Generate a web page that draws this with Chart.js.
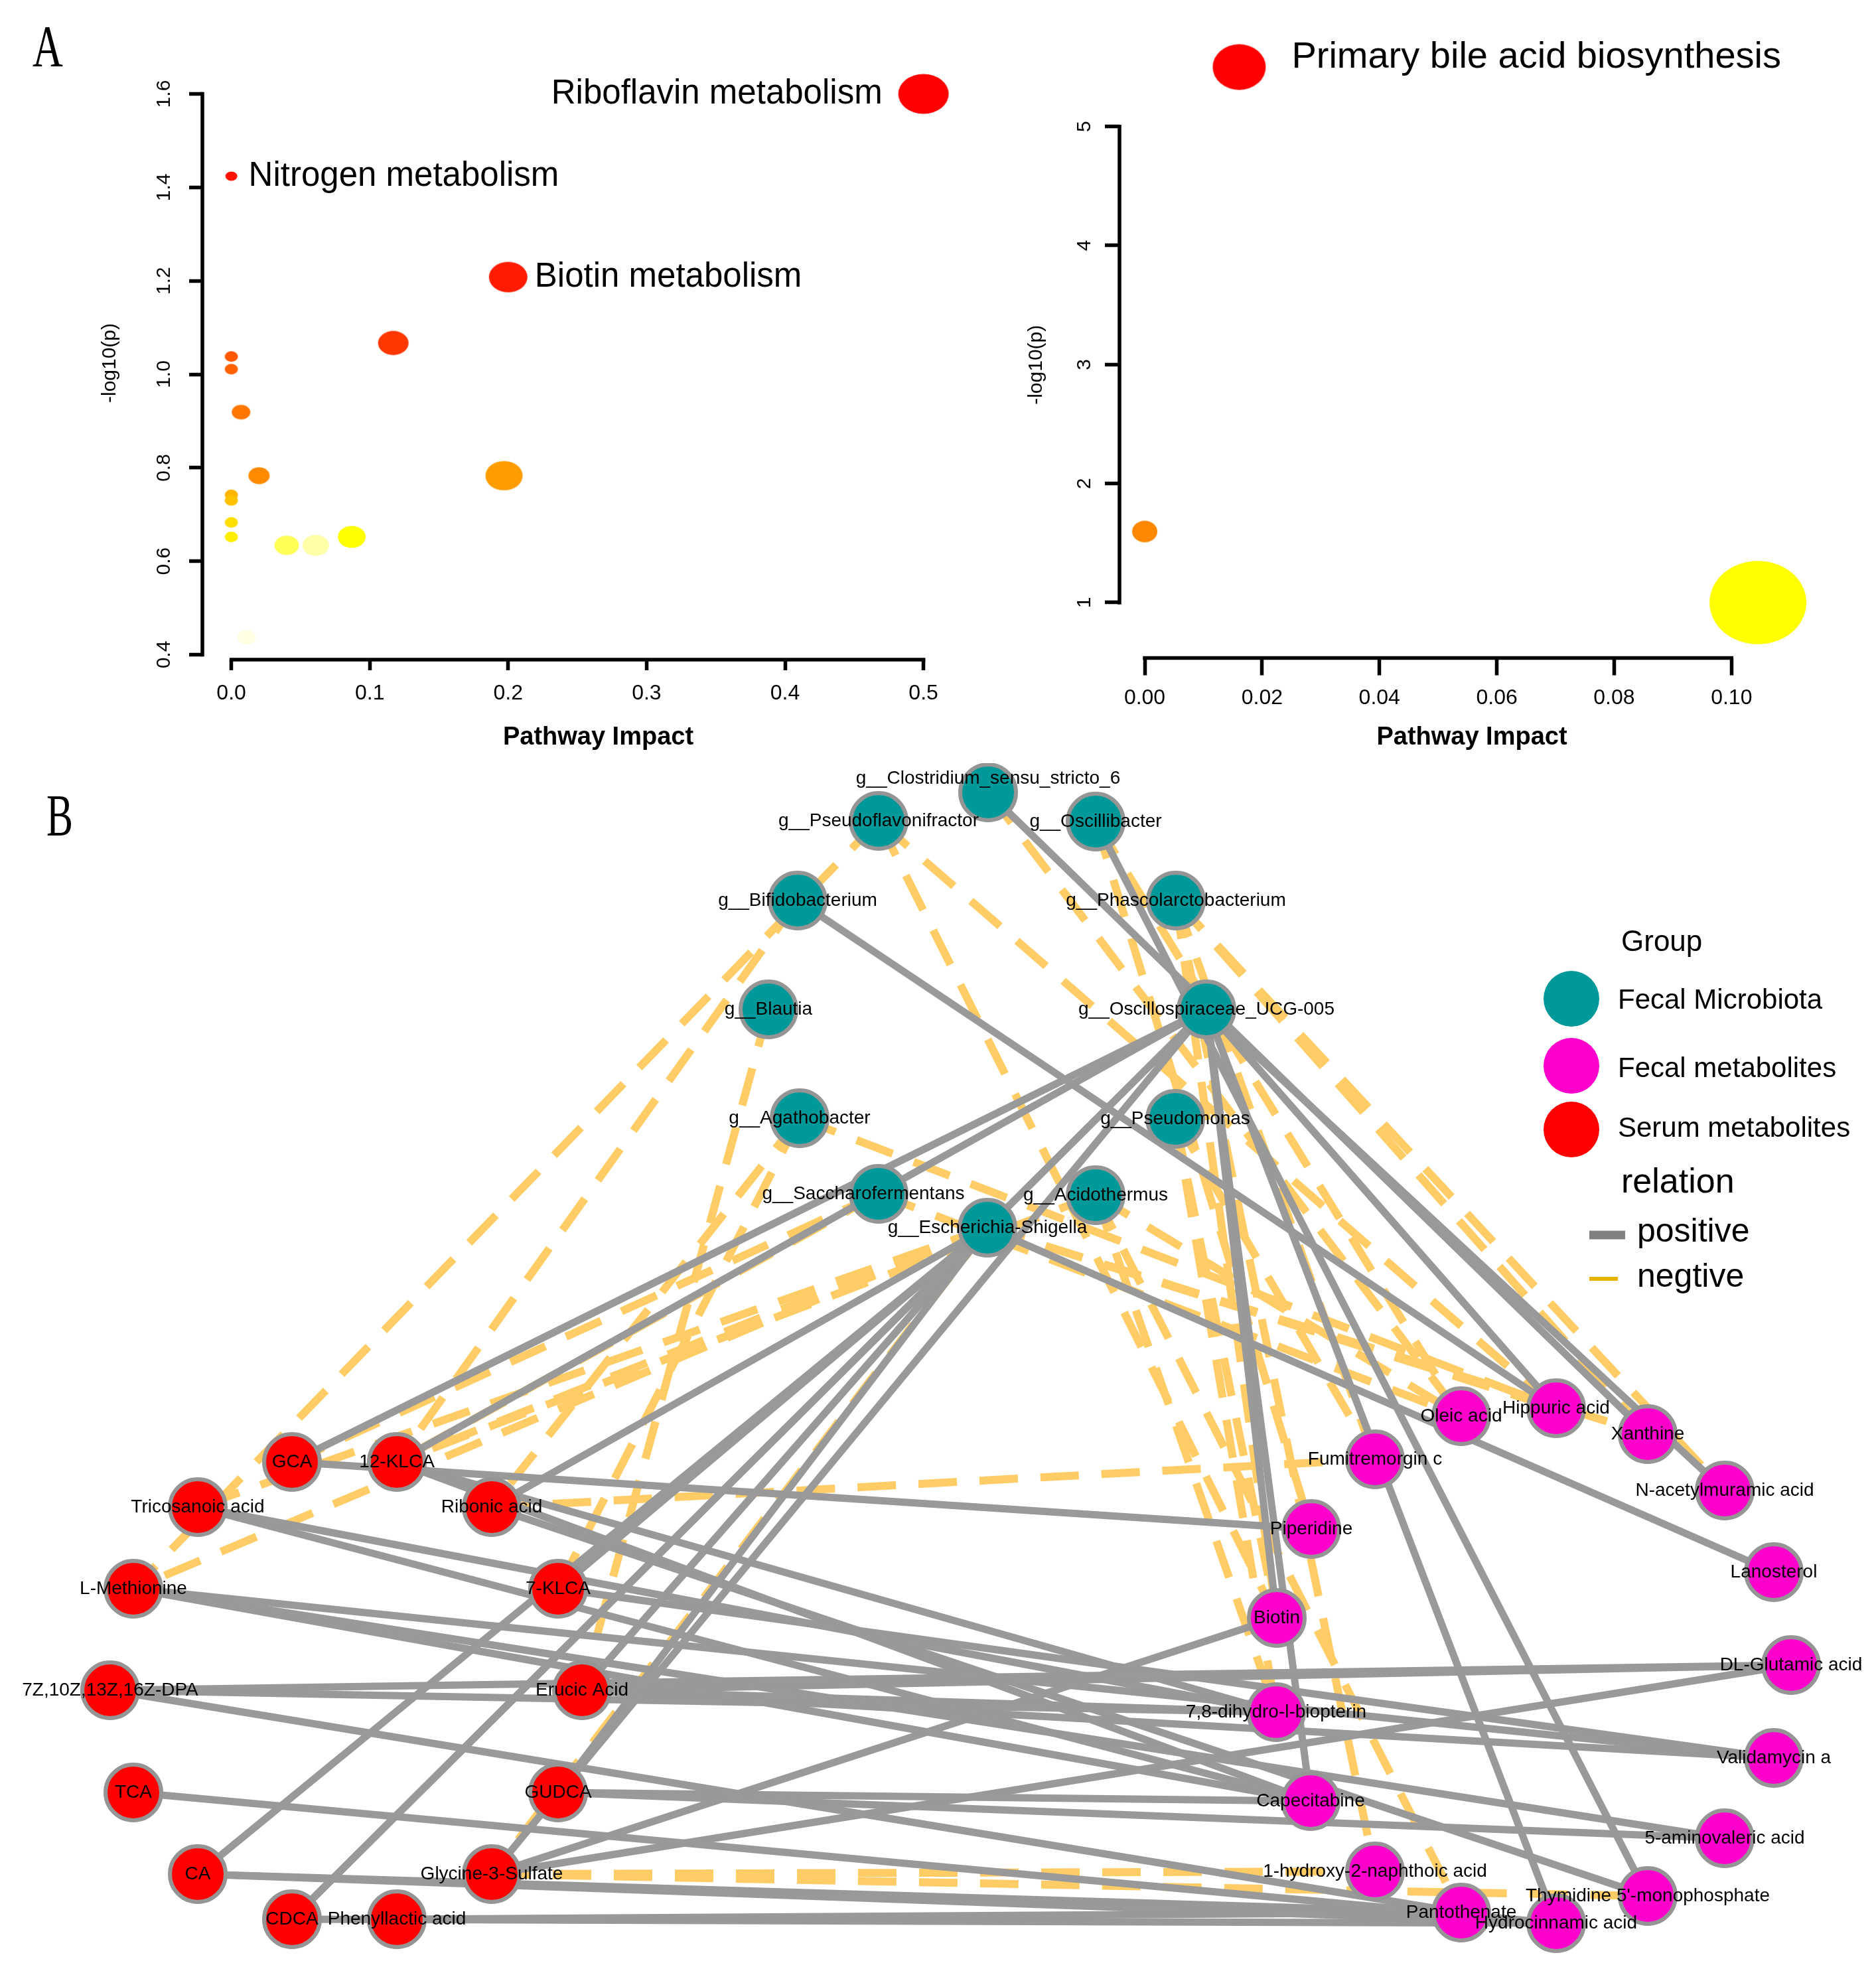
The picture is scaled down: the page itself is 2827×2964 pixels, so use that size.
<!DOCTYPE html>
<html><head><meta charset="utf-8">
<script src="https://cdn.jsdelivr.net/npm/chart.js@4.4.1/dist/chart.umd.min.js"></script>
<style>
html,body{margin:0;padding:0;background:#fff;width:2827px;height:2964px;overflow:hidden;}
.box{position:absolute;}
</style>
</head><body>
<div class="box" style="left:0;top:0;width:1550px;height:1150px"><canvas id="cA1"></canvas></div>
<div class="box" style="left:1450px;top:0;width:1377px;height:1150px"><canvas id="cA2"></canvas></div>
<div class="box" style="left:0;top:1150px;width:2827px;height:1814px"><canvas id="cB"></canvas></div>
<script>
// ---------------- DATA ----------------
// Panel A, left plot (pathways)
const leftImpact = [0.5, 0.0, 0.2, 0.117, 0.0, 0.0, 0.007, 0.02, 0.197, 0.0, 0.0, 0.0, 0.0, 0.087, 0.04, 0.061, 0.011];
const leftLogP   = [1.60, 1.424, 1.208, 1.067, 1.038, 1.011, 0.919, 0.783, 0.783, 0.742, 0.730, 0.683, 0.652, 0.652, 0.634, 0.634, 0.437];
const leftBubble = [38, 9, 29, 23, 10, 10, 14, 16, 28, 10, 10, 10, 10, 21, 18.5, 20, 14];
const leftColors = ['#ff0000','#ff1200','#ff1c00','#ff3800','#ff5800','#ff6000','#ff7600','#ff8a00','#ff9c00','#ffb400','#ffc200','#ffde00','#ffee00','#ffff00','#ffff55','#ffffa8','#ffffe4'];
const leftNames  = ['Riboflavin metabolism','Nitrogen metabolism','Biotin metabolism'];
const leftXTicks = [0, 0.1, 0.2, 0.3, 0.4, 0.5];
const leftXLabels = ['0.0','0.1','0.2','0.3','0.4','0.5'];
const leftYTicks = [0.4, 0.6, 0.8, 1.0, 1.2, 1.4, 1.6];
const leftYLabels = ['0.4','0.6','0.8','1.0','1.2','1.4','1.6'];

// Panel A, right plot
const rightImpact = [0.0161, 0.0, 0.1045];
const rightLogP   = [5.50, 1.597, 1.0];
const rightBubble = [40, 19, 73];
const rightColors = ['#ff0000','#ff8800','#ffff00'];
const rightNames  = ['Primary bile acid biosynthesis'];
const rightXTicks = [0, 0.02, 0.04, 0.06, 0.08, 0.10];
const rightXLabels = ['0.00','0.02','0.04','0.06','0.08','0.10'];
const rightYTicks = [1, 2, 3, 4, 5];
const rightYLabels = ['1','2','3','4','5'];

// Panel B, network nodes (layout coordinates)
const microbes = ['g__Clostridium_sensu_stricto_6','g__Pseudoflavonifractor','g__Oscillibacter','g__Bifidobacterium','g__Phascolarctobacterium','g__Blautia','g__Oscillospiraceae_UCG-005','g__Agathobacter','g__Pseudomonas','g__Saccharofermentans','g__Acidothermus','g__Escherichia-Shigella'];
const microbeX = [1489, 1324, 1651, 1202, 1772, 1158, 1818, 1205, 1771, 1324, 1651, 1488];
const microbeY = [1194, 1237, 1238, 1357, 1357, 1521, 1521, 1685, 1686, 1799, 1801, 1850];

const fecalMets = ['Oleic acid','Hippuric acid','Xanthine','Fumitremorgin c','N-acetylmuramic acid','Piperidine','Lanosterol','Biotin','DL-Glutamic acid','7,8-dihydro-l-biopterin','Validamycin a','Capecitabine','5-aminovaleric acid','1-hydroxy-2-naphthoic acid',"Thymidine 5'-monophosphate",'Pantothenate','Hydrocinnamic acid'];
const fecalX = [2202, 2345, 2483, 2072, 2599, 1976, 2673, 1924, 2699, 1923, 2673, 1975, 2599, 2072, 2483, 2202, 2345];
const fecalY = [2134, 2122, 2161, 2199, 2246, 2304, 2369, 2438, 2509, 2580, 2649, 2714, 2770, 2820, 2857, 2882, 2898];

const serumMets = ['GCA','12-KLCA','Tricosanoic acid','Ribonic acid','L-Methionine','7-KLCA','7Z,10Z,13Z,16Z-DPA','Erucic Acid','TCA','GUDCA','CA','Glycine-3-Sulfate','CDCA','Phenyllactic acid'];
const serumX = [440, 598, 298, 741, 201, 841, 166, 877, 201, 841, 298, 741, 440, 598];
const serumY = [2203, 2203, 2271, 2271, 2394, 2394, 2547, 2547, 2701, 2701, 2824, 2824, 2892, 2892];

// Panel B, correlations
const positiveEdges = [
 ['g__Clostridium_sensu_stricto_6','Xanthine'],
 ['g__Oscillibacter',"Thymidine 5'-monophosphate"],
 ['g__Bifidobacterium','Hippuric acid'],
 ['g__Oscillospiraceae_UCG-005','Hippuric acid'],
 ['g__Oscillospiraceae_UCG-005','N-acetylmuramic acid'],
 ['g__Oscillospiraceae_UCG-005','Biotin'],
 ['g__Oscillospiraceae_UCG-005','Capecitabine'],
 ['g__Oscillospiraceae_UCG-005','Hydrocinnamic acid'],
 ['g__Oscillospiraceae_UCG-005','GCA'],
 ['g__Oscillospiraceae_UCG-005','12-KLCA'],
 ['g__Oscillospiraceae_UCG-005','CDCA'],
 ['g__Oscillospiraceae_UCG-005','Glycine-3-Sulfate'],
 ['g__Escherichia-Shigella','Ribonic acid'],
 ['g__Escherichia-Shigella','Lanosterol'],
 ['g__Escherichia-Shigella','CDCA'],
 ['g__Escherichia-Shigella','GUDCA'],
 ['g__Escherichia-Shigella','CA'],
 ['g__Escherichia-Shigella','Erucic Acid'],
 ['g__Escherichia-Shigella','7-KLCA'],
 ['GCA','Piperidine'],
 ['Tricosanoic acid','7,8-dihydro-l-biopterin'],
 ['Tricosanoic acid','Capecitabine'],
 ['L-Methionine','5-aminovaleric acid'],
 ['L-Methionine','Validamycin a'],
 ['L-Methionine','Capecitabine'],
 ['7Z,10Z,13Z,16Z-DPA','DL-Glutamic acid'],
 ['7Z,10Z,13Z,16Z-DPA','7,8-dihydro-l-biopterin'],
 ['7Z,10Z,13Z,16Z-DPA','Pantothenate'],
 ['Erucic Acid','DL-Glutamic acid'],
 ['Erucic Acid','7,8-dihydro-l-biopterin'],
 ['Erucic Acid','Validamycin a'],
 ['TCA','Hydrocinnamic acid'],
 ['GUDCA','5-aminovaleric acid'],
 ['GUDCA','Capecitabine'],
 ['CA','Hydrocinnamic acid'],
 ['CA','Pantothenate'],
 ['CDCA','Hydrocinnamic acid'],
 ['Phenyllactic acid','Pantothenate'],
 ['Glycine-3-Sulfate','DL-Glutamic acid'],
 ['Glycine-3-Sulfate','Biotin'],
 ['Ribonic acid',"Thymidine 5'-monophosphate"],
 ['12-KLCA','Capecitabine'],
 ['7-KLCA','Validamycin a'],
 ['12-KLCA','7,8-dihydro-l-biopterin']
];
const negativeEdges = [
 ['g__Pseudoflavonifractor','L-Methionine'],
 ['g__Bifidobacterium','12-KLCA'],
 ['g__Blautia','Erucic Acid'],
 ['g__Escherichia-Shigella','Glycine-3-Sulfate'],
 ['g__Pseudoflavonifractor','Biotin'],
 ['g__Pseudoflavonifractor','Hippuric acid'],
 ['g__Oscillibacter','Piperidine'],
 ['g__Clostridium_sensu_stricto_6','Oleic acid'],
 ['g__Phascolarctobacterium','N-acetylmuramic acid'],
 ['g__Phascolarctobacterium','Xanthine'],
 ['g__Phascolarctobacterium','Fumitremorgin c'],
 ['g__Phascolarctobacterium','1-hydroxy-2-naphthoic acid'],
 ['g__Phascolarctobacterium','Biotin'],
 ['g__Agathobacter','Hippuric acid'],
 ['g__Agathobacter','7-KLCA'],
 ['g__Agathobacter','Ribonic acid'],
 ['g__Saccharofermentans','12-KLCA'],
 ['g__Saccharofermentans','GCA'],
 ['g__Saccharofermentans','Oleic acid'],
 ['g__Escherichia-Shigella','L-Methionine'],
 ['g__Escherichia-Shigella','Tricosanoic acid'],
 ['g__Escherichia-Shigella','12-KLCA'],
 ['g__Escherichia-Shigella','Hippuric acid'],
 ['g__Escherichia-Shigella','Xanthine'],
 ['g__Acidothermus','12-KLCA'],
 ['g__Acidothermus','Pantothenate'],
 ['g__Acidothermus','7,8-dihydro-l-biopterin'],
 ['g__Acidothermus','Oleic acid'],
 ['g__Pseudomonas','7,8-dihydro-l-biopterin'],
 ['g__Pseudomonas','Fumitremorgin c'],
 ['g__Pseudomonas','Biotin'],
 ['g__Oscillibacter','Oleic acid'],
 ['Ribonic acid','Fumitremorgin c'],
 ['Glycine-3-Sulfate','1-hydroxy-2-naphthoic acid'],
 ['Glycine-3-Sulfate',"Thymidine 5'-monophosphate"]
];
const groupNames = ['Fecal Microbiota','Fecal metabolites','Serum metabolites'];
const relationNames = ['positive','negtive'];

// ---------------- STYLE / HELPERS ----------------
const SANS = "'Liberation Sans', Arial, sans-serif";
const SERIF = "'Liberation Serif', 'Times New Roman', serif";
const TEAL = '#009999', MAGENTA = '#ff00cc', RED = '#ff0000';
const POS = '#999999', NEG = '#ffcc66';

function ellipseImg(rx, ry, color) {
  const c = document.createElement('canvas');
  c.width = Math.ceil(rx * 2) + 2; c.height = Math.ceil(ry * 2) + 2;
  const g = c.getContext('2d');
  g.fillStyle = color; g.beginPath();
  g.ellipse(c.width / 2, c.height / 2, rx, ry, 0, 0, Math.PI * 2); g.fill();
  return c;
}

const rAxes = {
  id: 'rAxes',
  afterDraw(chart, args, o) {
    const {ctx, chartArea: a, scales: {x, y}} = chart;
    ctx.save(); ctx.strokeStyle = '#000'; ctx.lineWidth = o.lw; ctx.lineCap = 'butt';
    ctx.beginPath();
    ctx.moveTo(x.getPixelForValue(o.xt[0]) - o.lw / 2, a.bottom);
    ctx.lineTo(x.getPixelForValue(o.xt[o.xt.length - 1]) + o.lw / 2, a.bottom);
    ctx.stroke();
    ctx.beginPath();
    ctx.moveTo(a.left, y.getPixelForValue(o.yt[0]) + o.lw / 2);
    ctx.lineTo(a.left, y.getPixelForValue(o.yt[o.yt.length - 1]) - o.lw / 2);
    ctx.stroke();
    ctx.restore();
  }
};

const pathLabels = {
  id: 'pathLabels',
  afterDatasetsDraw(chart, args, o) {
    const {ctx, scales: {x, y}} = chart;
    ctx.save(); ctx.fillStyle = '#000'; ctx.font = o.font; ctx.textBaseline = 'middle';
    o.items.forEach(it => {
      const px = x.getPixelForValue(o.xs[it.i]), py = y.getPixelForValue(o.ys[it.i]);
      ctx.textAlign = it.align;
      ctx.fillText(o.names[it.i], px + it.dx, py + it.dy);
    });
    if (o.panel) {
      ctx.save(); ctx.font = '88px ' + SERIF; ctx.textAlign = 'center'; ctx.textBaseline = 'alphabetic';
      ctx.translate(o.panel.x, o.panel.y); ctx.scale(0.72, 1); ctx.fillText(o.panel.t, 0, 0); ctx.restore();
    }
    ctx.restore();
  }
};

function bubbleChart(id, xs, ys, sizes, colors, aspect, xTicks, xLabels, yTicks, yLabels, cfg) {
  const imgs = sizes.map((r, i) => ellipseImg(r, r * aspect, colors[i]));
  return new Chart(document.getElementById(id), {
    type: 'scatter',
    data: { datasets: [{
      data: xs.map((v, i) => ({x: v, y: ys[i]})),
      pointStyle: c => imgs[c.dataIndex],
      pointRadius: sizes, pointHoverRadius: sizes,
      clip: false
    }]},
    options: {
      responsive: true, maintainAspectRatio: false, animation: false, events: [],
      layout: { autoPadding: false, padding: { left: 0, top: cfg.top, right: cfg.right, bottom: 0 } },
      plugins: { legend: {display: false}, tooltip: {enabled: false},
        rAxes: { xt: xTicks, yt: yTicks, lw: 5.5 },
        pathLabels: cfg.labels },
      scales: {
        x: {
          type: 'linear', min: cfg.xmin, max: cfg.xmax, bounds: 'data',
          border: {display: false},
          grid: { drawOnChartArea: false, drawTicks: true, tickLength: cfg.xtl, tickColor: '#000', tickWidth: 5.5, color: '#000' },
          afterBuildTicks: s => { s.ticks = xTicks.map(v => ({value: v})); },
          afterFit: s => { s.height = cfg.xh; },
          ticks: { autoSkip: false, maxRotation: 0, minRotation: 0, padding: cfg.xpad, color: '#000',
            font: {family: SANS, size: 32}, callback: (v, i) => xLabels[i] },
          title: { display: true, text: 'Pathway Impact', color: '#000',
            font: {family: SANS, size: 38, weight: 'bold'}, padding: {top: 0, bottom: 16} }
        },
        y: {
          type: 'linear', min: cfg.ymin, max: cfg.ymax, bounds: 'data',
          border: {display: false},
          grid: { drawOnChartArea: false, drawTicks: true, tickLength: cfg.ytl, tickColor: '#000', tickWidth: 5.5, color: '#000' },
          afterBuildTicks: s => { s.ticks = yTicks.map(v => ({value: v})); },
          afterFit: s => { s.width = cfg.yw; },
          ticks: { autoSkip: false, minRotation: 90, maxRotation: 90, crossAlign: 'center', padding: cfg.ypad, color: '#000',
            font: {family: SANS, size: 30}, callback: (v, i) => yLabels[i] },
          title: { display: true, text: '-log10(p)', color: '#000',
            font: {family: SANS, size: 30}, padding: {top: cfg.ytp, bottom: 0} }
        }
      }
    },
    plugins: [rAxes, pathLabels]
  });
}

// ---------------- PANEL A ----------------
bubbleChart('cA1', leftImpact, leftLogP, leftBubble, leftColors, 0.79,
  leftXTicks, leftXLabels, leftYTicks, leftYLabels, {
    top: 100, right: 52, xmin: -0.0209, xmax: 0.551, ymin: 0.3893, ymax: 1.659,
    xh: 156, yw: 305, xtl: 16, ytl: 20, xpad: 16, ypad: 16, ytp: 148,
    labels: { font: '51px ' + SANS, xs: leftImpact, ys: leftLogP, names: leftNames,
      items: [ {i: 0, align: 'right', dx: -62, dy: 0}, {i: 1, align: 'left', dx: 26, dy: 0}, {i: 2, align: 'left', dx: 40, dy: 0} ],
      panel: {t: 'A', x: 72, y: 99} }
  });

bubbleChart('cA2', rightImpact, rightLogP, rightBubble, rightColors, 0.86,
  rightXTicks, rightXLabels, rightYTicks, rightYLabels, {
    top: 108, right: 78, xmin: -0.0043, xmax: 0.1158, ymin: 0.5337, ymax: 5.461,
    xh: 158.4, yw: 237, xtl: 26, ytl: 22, xpad: 15, ypad: 22, ytp: 94,
    labels: { font: '56px ' + SANS, xs: rightImpact, ys: rightLogP, names: rightNames,
      items: [ {i: 0, align: 'left', dx: 79, dy: -14} ] }
  });

// ---------------- PANEL B ----------------
const nodePos = {};
microbes.forEach((n, i) => nodePos[n] = {x: microbeX[i], y: microbeY[i]});
fecalMets.forEach((n, i) => nodePos[n] = {x: fecalX[i], y: fecalY[i]});
serumMets.forEach((n, i) => nodePos[n] = {x: serumX[i], y: serumY[i]});

const edgeSets = [];
negativeEdges.forEach(e => edgeSets.push({
  type: 'scatter', data: [nodePos[e[0]], nodePos[e[1]]], showLine: true,
  borderColor: NEG, borderWidth: 12, borderDash: [58, 34], borderCapStyle: 'butt',
  pointRadius: 0, order: 3, clip: false
}));
positiveEdges.forEach(e => edgeSets.push({
  type: 'scatter', data: [nodePos[e[0]], nodePos[e[1]]], showLine: true,
  borderColor: POS, borderWidth: 11, pointRadius: 0, order: 2, clip: false
}));
function nodeSet(names, xs, ys, color) {
  return { type: 'scatter', data: names.map((n, i) => ({x: xs[i], y: ys[i]})),
    pointRadius: 42, pointBorderWidth: 6, backgroundColor: color, borderColor: '#959595',
    pointBackgroundColor: color, pointBorderColor: '#959595', order: 0, clip: false };
}
const nodeSets = [
  nodeSet(microbes, microbeX, microbeY, TEAL),
  nodeSet(fecalMets, fecalX, fecalY, MAGENTA),
  nodeSet(serumMets, serumX, serumY, RED)
];
const labelShift = {'g__Clostridium_sensu_stricto_6': [0, -21], 'g__Saccharofermentans': [-23, 0]};

const netLabels = {
  id: 'netLabels',
  afterDatasetsDraw(chart) {
    const {ctx, scales: {x, y}} = chart;
    ctx.save(); ctx.fillStyle = '#000'; ctx.font = '28px ' + SANS;
    ctx.textAlign = 'center'; ctx.textBaseline = 'middle';
    [[microbes, microbeX, microbeY], [fecalMets, fecalX, fecalY], [serumMets, serumX, serumY]].forEach(([ns, xs, ys]) => {
      ns.forEach((n, i) => {
        const s = labelShift[n] || [0, 0];
        ctx.fillText(n, x.getPixelForValue(xs[i]) + s[0], y.getPixelForValue(ys[i]) + s[1]);
      });
    });
    // panel letter
    ctx.save(); ctx.font = '88px ' + SERIF; ctx.textBaseline = 'alphabetic';
    ctx.translate(90, y.getPixelForValue(1258)); ctx.scale(0.68, 1); ctx.fillText('B', 0, 0); ctx.restore();
    // legend
    const Y = v => y.getPixelForValue(v);
    ctx.textAlign = 'left';
    ctx.font = '44px ' + SANS; ctx.fillText('Group', 2443, Y(1421));
    const cols = [TEAL, MAGENTA, RED], ly = [1505, 1606, 1702], lty = [1508, 1611, 1701];
    ctx.font = '42px ' + SANS;
    groupNames.forEach((g, i) => {
      ctx.fillStyle = cols[i]; ctx.beginPath(); ctx.arc(2368, Y(ly[i]), 42, 0, Math.PI * 2); ctx.fill();
      ctx.fillStyle = '#000'; ctx.fillText(g, 2438, Y(lty[i]));
    });
    ctx.font = '52px ' + SANS; ctx.fillText('relation', 2443, Y(1783));
    ctx.lineCap = 'butt';
    ctx.strokeStyle = '#808080'; ctx.lineWidth = 13;
    ctx.beginPath(); ctx.moveTo(2395, Y(1861)); ctx.lineTo(2449, Y(1861)); ctx.stroke();
    ctx.strokeStyle = '#e6b400'; ctx.lineWidth = 6;
    ctx.beginPath(); ctx.moveTo(2395, Y(1927)); ctx.lineTo(2438, Y(1927)); ctx.stroke();
    ctx.font = '50px ' + SANS;
    ctx.fillText(relationNames[0], 2467, Y(1857));
    ctx.fillText(relationNames[1], 2467, Y(1925));
    ctx.restore();
  }
};

new Chart(document.getElementById('cB'), {
  type: 'scatter',
  data: { datasets: nodeSets.concat(edgeSets) },
  options: {
    responsive: true, maintainAspectRatio: false, animation: false, events: [],
    layout: { autoPadding: false, padding: 0 },
    plugins: { legend: {display: false}, tooltip: {enabled: false} },
    scales: {
      x: { type: 'linear', display: false, min: 0, max: 2827 },
      y: { type: 'linear', display: false, min: 1150, max: 2964, reverse: true }
    }
  },
  plugins: [netLabels]
});
</script>
</body></html>
